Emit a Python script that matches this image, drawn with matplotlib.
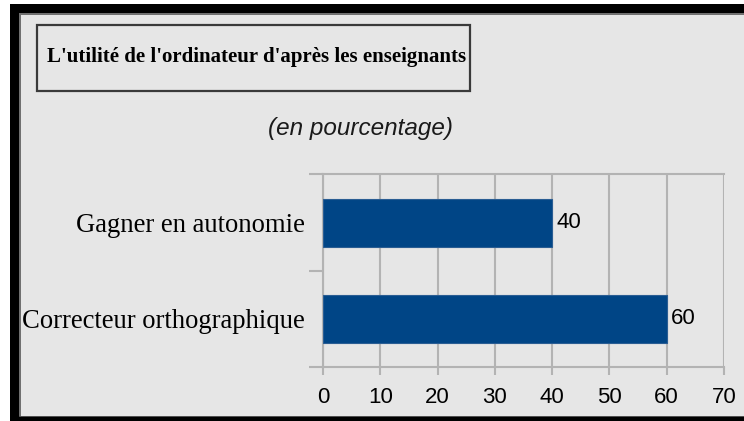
import matplotlib.pyplot as plt
from matplotlib.patches import Rectangle

categories = ["Correcteur orthographique", "Gagner en autonomie"]
values = [60, 40]
x_ticks = [0, 10, 20, 30, 40, 50, 60, 70]

title = "L'utilité de l'ordinateur d'après les enseignants"
subtitle = "(en pourcentage)"

W, H = 744, 421
bg = "#e6e6e6"
grid_col = "#b3b3b3"
bar_col = "#004586"


def px(x):
    return x / W


def py(y):
    return 1 - y / H


fig = plt.figure(figsize=(W / 100, H / 100), dpi=100, facecolor=bg)

# cadre noir autour du graphique
fig.add_artist(Rectangle((0, 0), px(10), 1, transform=fig.transFigure, color="white", lw=0))
fig.add_artist(Rectangle((0, py(4)), 1, 4 / H, transform=fig.transFigure, color="white", lw=0))
fig.add_artist(Rectangle((px(10), 0), px(9), py(4), transform=fig.transFigure, color="black", lw=0))
fig.add_artist(Rectangle((px(10), py(13)), 1, 9 / H, transform=fig.transFigure, color="black", lw=0))
fig.add_artist(Rectangle((px(10), 0), 1, 4 / H, transform=fig.transFigure, color="black", lw=0))
fig.add_artist(Rectangle((px(19), py(14.5)), 1, 1.5 / H, transform=fig.transFigure, color="#707070", lw=0))
fig.add_artist(Rectangle((px(19), py(417)), 1.5 / W, py(14.5) - py(417), transform=fig.transFigure, color="#707070", lw=0))
fig.add_artist(Rectangle((px(19), py(417)), 1, 1.5 / H, transform=fig.transFigure, color="#505050", lw=0))

# titre encadré
fig.add_artist(Rectangle((px(37), py(91)), px(470) - px(37), py(25) - py(91),
                         transform=fig.transFigure, fill=False, ec="#3a3a3a", lw=1.6))
fig.text(px(257), py(57), title, ha="center", va="center", fontsize=15,
         fontweight="bold", family="Liberation Serif", color="black")
fig.text(px(360), py(128), subtitle, ha="center", va="center", fontsize=17.5,
         style="italic", family="Liberation Sans", color="#1a1a1a")

ax = fig.add_axes([px(323), py(366.5), px(724) - px(323), py(174.5) - py(366.5)])
ax.set_facecolor(bg)

ypos = list(range(len(categories)))
ax.barh(ypos, values, height=0.5, color=bar_col, edgecolor="#2a5d93", lw=0.8, zorder=3)
for y, v in zip(ypos, values):
    ax.text(v + 0.7, y, str(v), va="center", ha="left", fontsize=16,
            family="Liberation Sans", color="black")

ax.set_xlim(0, 70)
ax.set_ylim(-0.5, len(categories) - 0.5)
ax.set_xticks(x_ticks)
ax.set_xticklabels([str(t) for t in x_ticks], family="Liberation Sans", fontsize=16)
ax.set_yticks(ypos)
ax.set_yticklabels(categories, family="Liberation Serif", fontsize=19.2)
ax.set_yticks([-0.5, 0.5, 1.5], minor=True)

ax.grid(axis="x", color=grid_col, lw=1.5, zorder=0)
ax.tick_params(axis="x", length=6, width=1.5, color=grid_col, pad=9)
ax.tick_params(axis="y", which="major", length=0, pad=13)
ax.tick_params(axis="y", which="minor", length=10, width=1.5, color=grid_col)

for side in ["top", "bottom", "left"]:
    ax.spines[side].set_color(grid_col)
    ax.spines[side].set_linewidth(1.5)
ax.spines["right"].set_visible(False)
ax.spines["top"].set_zorder(0)

fig.savefig("out.png", dpi=100, facecolor=bg)
